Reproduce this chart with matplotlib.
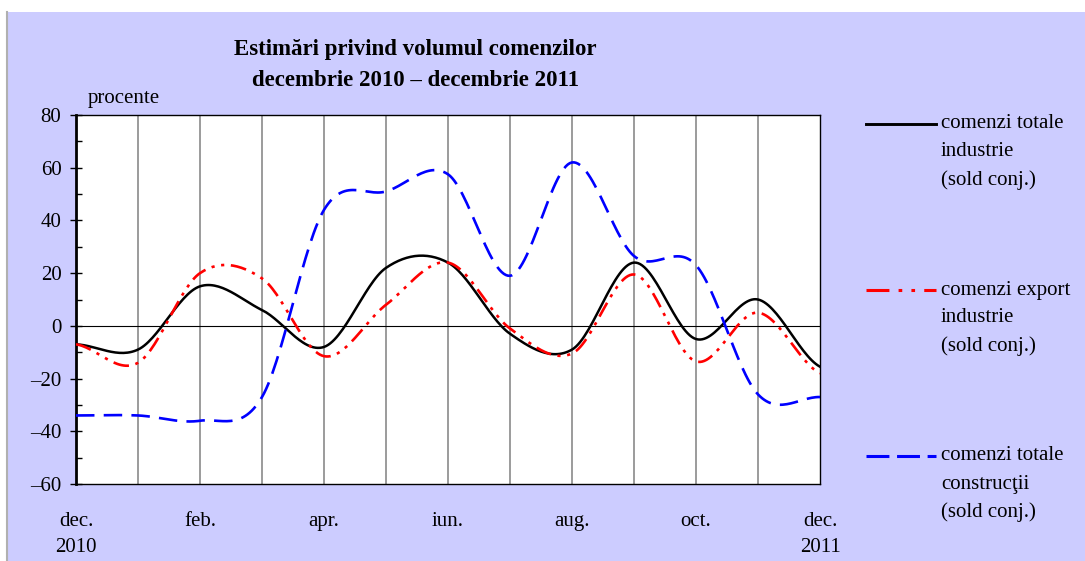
import numpy as np
import matplotlib.pyplot as plt
from matplotlib.patches import Rectangle
from matplotlib.lines import Line2D
from matplotlib.ticker import MultipleLocator

plt.rcParams['font.family'] = ['Liberation Serif', 'DejaVu Serif']

# ---- date (lunar, dec. 2010 - dec. 2011) ----
luni = ['dec.\n2010', '', 'feb.', '', 'apr.', '', 'iun.', '', 'aug.', '', 'oct.', '', 'dec.\n2011']
total_industrie = [-7, -9, 15, 6, -8, 22, 24, -3, -9, 24, -5, 10, -15.5]
export_industrie = [-7, -14, 20, 18, -11.5, 8, 24, -1, -10.5, 19.5, -13.5, 5, -18]
total_constructii = [-34, -34, -36, -27, 44, 51, 57.5, 19, 62, 26.5, 23, -26, -27]

serii = [
    ('comenzi totale\nindustrie\n(sold conj.)', total_industrie, 'black', '-', 1.8),
    ('comenzi export\nindustrie\n(sold conj.)', export_industrie, '#ff0000', (0, (6, 2.5, 1.2, 2.5, 1.2, 2.5)), 1.9),
    ('comenzi totale\nconstrucţii\n(sold conj.)', total_constructii, '#0000ff', (0, (7, 3.5)), 1.9),
]
# stiluri in legenda (liniute mai lungi, ca in original)
stil_legenda = ['-', (0, (7.5, 3, 1.2, 3, 1.2, 3)), (0, (7.5, 2.5))]

bg = '#ccccff'


def netezire(y, n=30):
    # curba netezita tip Excel (Catmull-Rom)
    y = np.asarray(y, dtype=float)
    p = np.concatenate([[y[0]], y, [y[-1]]])
    xs, ys = [], []
    for i in range(len(y) - 1):
        p0, p1, p2, p3 = p[i], p[i + 1], p[i + 2], p[i + 3]
        c1 = p1 + (p2 - p0) / 6
        c2 = p2 - (p3 - p1) / 6
        t = np.linspace(0, 1, n, endpoint=False)
        b = (1 - t) ** 3 * p1 + 3 * (1 - t) ** 2 * t * c1 + 3 * (1 - t) * t ** 2 * c2 + t ** 3 * p2
        xs.append(i + t)
        ys.append(b)
    xs.append([len(y) - 1])
    ys.append([y[-1]])
    return np.concatenate(xs), np.concatenate(ys)


W, H = 1085, 561
fig = plt.figure(figsize=(W / 100, H / 100), dpi=100, facecolor='white')
fig.patches.append(Rectangle((8 / W, 0), 1 - 8 / W, 1 - 12 / H, transform=fig.transFigure,
                             facecolor=bg, edgecolor='none', zorder=-10))
fig.lines.append(Line2D([7 / W, 7 / W], [0, 1 - 12 / H], transform=fig.transFigure,
                        color='#b0b0b0', lw=1.5, zorder=-9))

ax = fig.add_axes([76 / W, 1 - 484 / H, (820 - 76) / W, (484 - 115) / H])
ax.set_facecolor('white')

for k in range(1, 12):
    ax.axvline(k, color='#808080', lw=1.1, zorder=1)
ax.axhline(0, color='black', lw=0.8, zorder=1)

for nume, val, cul, stil, lw in serii:
    xs, ys = netezire(val)
    ax.plot(xs, ys, color=cul, ls=stil, lw=lw, zorder=3)

ax.set_xlim(0, 12)
ax.set_ylim(-60, 80)
ax.yaxis.set_minor_locator(MultipleLocator(10))
ax.set_yticks(range(-60, 81, 20))
ax.set_yticklabels([str(v).replace('-', '–') for v in range(-60, 81, 20)])
ax.tick_params(axis='y', which='major', direction='inout', length=9, width=1, labelsize=15, pad=6)
ax.tick_params(axis='y', which='minor', direction='in', length=4, width=1)
ax.set_xticks(range(len(luni)))
ax.set_xticklabels(luni, fontsize=15, linespacing=1.55)
ax.tick_params(axis='x', length=0, pad=20)
for s in ax.spines.values():
    s.set_color('black')
    s.set_linewidth(1)
ax.spines['left'].set_linewidth(2)

fig.text(415 / W, 1 - 50 / H, 'Estimări privind volumul comenzilor', ha='center', va='center',
         fontsize=16.5, fontweight='bold')
fig.text(415 / W, 1 - 80 / H, 'decembrie 2010 – decembrie 2011', ha='center', va='center',
         fontsize=16.5, fontweight='bold')
fig.text(88 / W, 1 - 98 / H, 'procente', ha='left', va='center', fontsize=15)

# legenda manuala in dreapta
leg_y = [124, 290, 456]
for (nume, val, cul, stil, lw), sl, yy in zip(serii, stil_legenda, leg_y):
    fig.lines.append(Line2D([866 / W, 936 / W], [1 - yy / H, 1 - yy / H], transform=fig.transFigure,
                            color=cul, ls=sl, lw=lw + 0.3))
    for j, rand in enumerate(nume.split('\n')):
        fig.text(941 / W, 1 - (yy + 28 * j) / H, rand, ha='left', va='center', fontsize=15)

fig.savefig('out.png', dpi=100, facecolor='white')
